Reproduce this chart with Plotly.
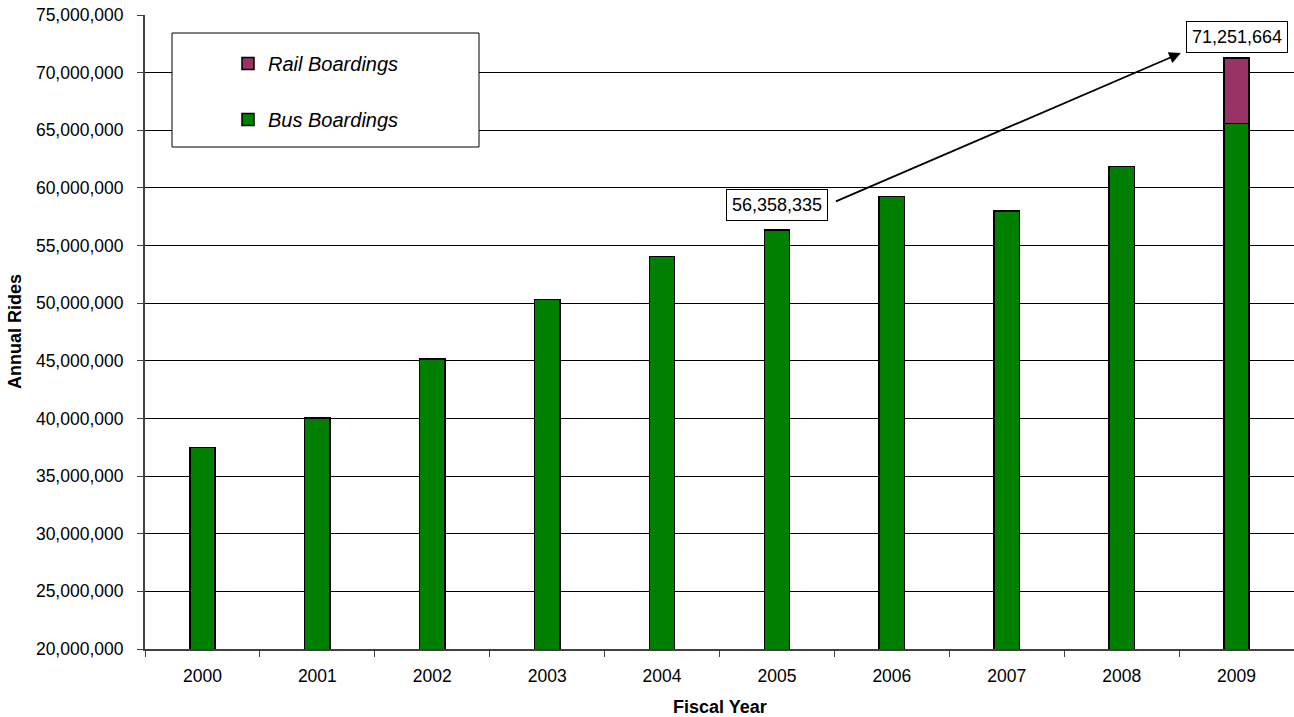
import plotly.graph_objects as go

years = ["2000", "2001", "2002", "2003", "2004", "2005", "2006", "2007", "2008", "2009"]
bus = [37500000, 40050000, 45150000, 50300000, 54030000, 56358335, 59240000, 58000000, 61840000, 65600000]
rail = [None, None, None, None, None, None, None, None, None, 5651664]
label_2005 = "56,358,335"
label_2009 = "71,251,664"
total_2009 = 71251664

FONT = "Liberation Sans, Arial, sans-serif"

W, H = 1294, 717
L, R, T, B = 145, 0, 15, 68
pw, ph = W - L - R, H - T - B

def px2paper_x(px):
    return (px - L) / pw

def px2paper_y(py):
    return (H - B - py) / ph

fig = go.Figure()
fig.add_trace(go.Bar(
    x=years, y=bus, name="Bus Boardings", legendgroup="bus", legendrank=2,
    marker=dict(color="#008000", line=dict(color="#000000", width=1.5)),
    width=0.22,
))
fig.add_trace(go.Bar(
    x=years, y=rail, name="Rail Boardings", legendgroup="rail", legendrank=1,
    marker=dict(color="#993366", line=dict(color="#000000", width=1.5)),
    width=0.22,
))

fig.update_layout(
    barmode="stack",
    width=W, height=H,
    margin=dict(l=L, r=R, t=T, b=B, autoexpand=False),
    paper_bgcolor="white", plot_bgcolor="white",
    font=dict(family=FONT, color="#000000", size=17.5),
    showlegend=True,
    legend=dict(
        x=px2paper_x(228), y=px2paper_y(44), xanchor="left", yanchor="top",
        bgcolor="rgba(0,0,0,0)", borderwidth=0,
        font=dict(family=FONT, size=20, style="italic"),
        traceorder="grouped", tracegroupgap=27,
    ),
    xaxis=dict(
        type="category", range=[-0.5, 9.5], tickson="boundaries",
        ticks="outside", ticklen=6, tickcolor="#404040", tickwidth=1,
        showline=True, linecolor="#404040", linewidth=2,
        showgrid=False, ticklabelstandoff=10,
        tickfont=dict(size=17.5),
    ),
    yaxis=dict(
        range=[20000000, 75000000], dtick=5000000, tickformat=",d",
        ticks="outside", ticklen=6, tickcolor="#404040", tickwidth=1,
        showline=True, linecolor="#404040", linewidth=2,
        showgrid=True, gridcolor="#000000", gridwidth=1,
        ticklabelstandoff=10, zeroline=False,
        tickfont=dict(size=17.5),
    ),
    shapes=[
        dict(type="rect", xref="paper", yref="paper",
             x0=px2paper_x(172), x1=px2paper_x(479),
             y0=px2paper_y(147), y1=px2paper_y(33),
             fillcolor="white", line=dict(color="#000000", width=1), layer="above"),
    ],
    annotations=[
        dict(text="<b>Annual Rides</b>", xref="paper", yref="paper",
             x=px2paper_x(15), y=0.5, textangle=-90, showarrow=False,
             font=dict(size=18), xanchor="center", yanchor="middle"),
        dict(text="<b>Fiscal Year</b>", xref="paper", yref="paper",
             x=0.5, y=px2paper_y(707), showarrow=False,
             font=dict(size=18), xanchor="center", yanchor="middle"),
        dict(text=label_2005, x=5, y=bus[5], xref="x", yref="y",
             showarrow=False, yanchor="bottom", yshift=9,
             bgcolor="white", bordercolor="#000000", borderwidth=1, borderpad=5,
             font=dict(size=18)),
        dict(text=label_2009, x=9, y=total_2009, xref="x", yref="y",
             showarrow=False, yanchor="bottom", yshift=5,
             bgcolor="white", bordercolor="#000000", borderwidth=1, borderpad=5,
             font=dict(size=18)),
        dict(text="", x=8.515, y=71700000, xref="x", yref="y",
             ax=5.5, ay=58780000, axref="x", ayref="y",
             showarrow=True, arrowhead=2, arrowsize=1.3, arrowwidth=1.8,
             arrowcolor="#000000"),
    ],
)

fig.write_html("out.html")
